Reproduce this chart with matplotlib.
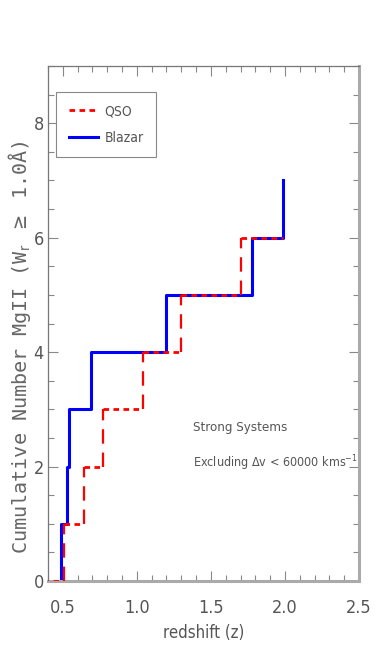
import matplotlib
matplotlib.use('Agg')
import matplotlib.pyplot as plt
from matplotlib.lines import Line2D
import numpy as np

# narrow sans for ticks/labels, closer to the IDL hershey look
plt.rcParams['font.family'] = ['DejaVu Sans']
plt.rcParams['font.stretch'] = 'condensed'

# redshift where the cumulative count goes up by one
qso_start = 0.30
qso_z = [0.51, 0.64, 0.77, 1.04, 1.30, 1.70]
qso_end = 1.99

blazar_start = 0.45
blazar_z = [0.49, 0.53, 0.545, 0.69, 1.20, 1.78, 1.99]

xticks = [0.5, 1.0, 1.5, 2.0, 2.5]
yticks = [0, 2, 4, 6, 8]

fig = plt.figure(figsize=(3.88, 6.64), dpi=100)
ax = fig.add_axes([0.1237, 0.125, 0.8015, 0.7756])

# blazar, solid step
bx = [blazar_start] + blazar_z
by = np.arange(len(bx))
ax.step(bx, by, where='post', color='#0000ff', lw=2.2, zorder=2)

# qso, horizontal parts dotted-ish, vertical parts dashed (like the IDL output)
edges = [qso_start] + qso_z + [qso_end]
counts = np.arange(len(qso_z) + 1)
ax.hlines(counts, edges[:-1], edges[1:], colors='#ff0000', lw=2.0,
          linestyles=[(0, (2.0, 1.6))], zorder=3)
ax.vlines(qso_z, counts[:-1], counts[1:], colors='#ff0000', lw=1.6,
          linestyles=[(0, (6.5, 4.0))], zorder=3)

ax.set_xlim(0.4, 2.5)
ax.set_ylim(0, 9)
ax.set_xticks(xticks)
ax.set_xticklabels(['%.1f' % v for v in xticks])
ax.set_yticks(yticks)
ax.set_xticks(np.arange(0.4, 2.501, 0.1), minor=True)
ax.set_yticks(np.arange(0, 9.01, 0.5), minor=True)

tc = '#555555'
ax.tick_params(which='both', direction='in', top=True, right=True, colors='#888888',
               labelcolor=tc)
ax.tick_params(which='major', length=7, width=0.8, labelsize=13)
ax.tick_params(which='minor', length=4, width=0.8)
ax.tick_params(axis='x', which='major', pad=13)
ax.tick_params(axis='y', which='major', pad=3)

for side in ['left', 'top']:
    ax.spines[side].set_color('#777777')
    ax.spines[side].set_linewidth(0.9)
for side in ['right', 'bottom']:
    ax.spines[side].set_color('#aaaaaa')
    ax.spines[side].set_linewidth(2.2)

ax.set_xlabel('redshift (z)', fontsize=12, color=tc, labelpad=5)
ax.set_ylabel(r'Cumulative Number MgII (W$_{\rm r}$ $\geq$ 1.0Å)', fontsize=14.5,
              color='#666666', family=['DejaVu Sans Mono'])
# label anchor is the right-hand edge of the rotated text
ax.yaxis.set_label_coords(-0.048, 0.455)

ax.text(1.38, 2.69, 'Strong Systems', fontsize=9.5, color=tc, va='center')
ax.text(1.38, 2.06, r'Excluding $\Delta$v < 60000 kms$^{-1}$', fontsize=9,
        color=tc, va='center')

handles = [Line2D([], [], color='#ff0000', lw=2.0, linestyle=(0, (2.0, 1.6))),
           Line2D([], [], color='#0000ff', lw=2.2)]
leg = ax.legend(handles, ['QSO', 'Blazar'], loc='upper left',
                bbox_to_anchor=(0.026, 0.95), fancybox=False, framealpha=1,
                edgecolor='#888888', fontsize=10, handlelength=2.1,
                borderpad=0.9, labelspacing=0.9, handletextpad=0.5,
                borderaxespad=0)
leg.get_frame().set_linewidth(0.8)
for t in leg.get_texts():
    t.set_color(tc)

fig.savefig('out.png', dpi=100)
